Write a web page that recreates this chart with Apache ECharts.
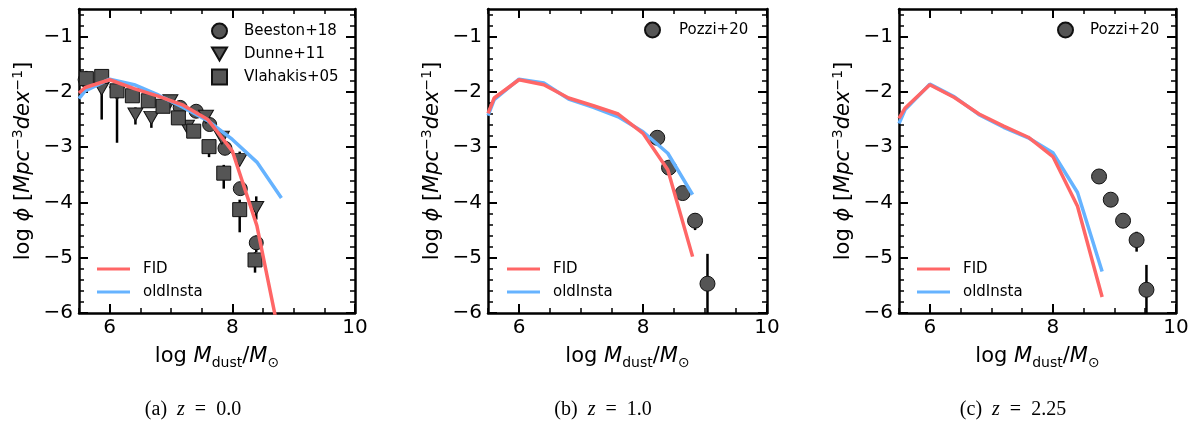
<!DOCTYPE html>
<html>
<head>
<meta charset="utf-8">
<script src="https://cdn.jsdelivr.net/npm/echarts@6/dist/echarts.min.js"></script>
<style>
  html, body { margin: 0; padding: 0; background: #fff; }
  #chart { width: 1194px; height: 435px; }
</style>
</head>
<body>
<div id="chart"></div>
<script>
// model grid in log Mdust
const modelX = [5.5, 5.6, 6.0, 6.4, 6.8, 7.2, 7.6, 8.0, 8.4, 8.8];

// z = 0.0
const fidZ0 = [-2.02, -1.92, -1.78, -1.94, -2.08, -2.24, -2.50, -3.07, -4.42, -6.6];
const oldZ0 = [-2.12, -1.98, -1.77, -1.87, -2.06, -2.28, -2.52, -2.86, -3.27, -3.92];
// z = 1.0
const fidZ1 = [-2.39, -2.11, -1.78, -1.87, -2.11, -2.25, -2.40, -2.75, -3.41, -4.98];
const oldZ1 = [-2.43, -2.14, -1.77, -1.84, -2.13, -2.28, -2.45, -2.72, -3.11, -3.86];
// z = 2.25
const fidZ2 = [-2.48, -2.29, -1.87, -2.10, -2.40, -2.62, -2.82, -3.17, -4.07, -5.71];
const oldZ2 = [-2.57, -2.32, -1.86, -2.09, -2.41, -2.64, -2.83, -3.10, -3.82, -5.25];

// observations z=0
const beestonX  = [5.6, 7.15, 7.41, 7.63, 7.88, 8.13, 8.39];
const beestonY  = [-1.78, -2.28, -2.35, -2.59, -3.02, -3.75, -4.73];
const beestonLo = [-1.86, -2.33, -2.40, -2.64, -3.08, -3.85, -4.90];
const beestonHi = [-1.70, -2.23, -2.30, -2.54, -2.96, -3.65, -4.60];

const dunneX  = [5.87, 6.12, 6.42, 6.68, 6.99, 7.26, 7.57, 7.83, 8.12, 8.39];
const dunneY  = [-1.94, -2.03, -2.41, -2.47, -2.17, -2.63, -2.45, -2.83, -3.23, -4.10];
const dunneLo = [-2.50, -2.92, -2.59, -2.65, -2.22, -2.68, -2.50, -2.90, -3.30, -4.31];
const dunneHi = [-1.85, -1.92, -2.28, -2.40, -2.12, -2.58, -2.40, -2.76, -3.08, -3.89];

const vlahX  = [5.62, 5.87, 6.12, 6.37, 6.63, 6.87, 7.12, 7.37, 7.62, 7.86, 8.12, 8.37];
const vlahY  = [-1.76, -1.72, -1.98, -2.07, -2.16, -2.26, -2.47, -2.71, -2.99, -3.47, -4.13, -5.04];
const vlahLo = [-1.84, -1.78, -2.04, -2.12, -2.21, -2.31, -2.52, -2.78, -3.18, -3.75, -4.54, -5.27];
const vlahHi = [-1.62, -1.66, -1.92, -2.02, -2.11, -2.21, -2.42, -2.65, -2.90, -3.32, -3.95, -4.90];

// Pozzi+20
const pozziX1  = [8.23, 8.42, 8.64, 8.84, 9.04];
const pozziY1  = [-2.83, -3.37, -3.83, -4.33, -5.47];
const pozziLo1 = [-2.90, -3.43, -3.90, -4.50, -6.00];
const pozziHi1 = [-2.76, -3.31, -3.76, -4.20, -4.93];

const pozziX2  = [8.75, 8.94, 9.14, 9.36, 9.52];
const pozziY2  = [-3.53, -3.95, -4.33, -4.68, -5.58];
const pozziLo2 = [-3.60, -4.02, -4.46, -4.89, -6.00];
const pozziHi2 = [-3.46, -3.88, -4.22, -4.53, -5.13];

// ticks
const xMajor = [6, 8, 10];
const yMajor = [-6, -5, -4, -3, -2, -1];
const captions = ['(a)  {i|z}  =  0.0', '(b)  {i|z}  =  1.0', '(c)  {i|z}  =  2.25'];

const xMinor = [];
for (let v = 5.5; v <= 10.001; v += 0.5) if (Math.abs(v - Math.round(v / 2) * 2) > 0.01) xMinor.push(+v.toFixed(2));
const yMinor = [];
for (let v = -6; v <= -0.55; v += 0.2) if (Math.abs(v - Math.round(v)) > 0.01) yMinor.push(+v.toFixed(2));

const FONT = 'DejaVu Sans';
const RED = '#ff6666';
const BLUE = '#66b3ff';
const MARK = '#555555';
const triDown = 'path://M0,0L20,0L10,17.3Z';

const grids = [
  { left: 79, top: 9, width: 276, height: 304 },
  { left: 488, top: 9, width: 279, height: 304 },
  { left: 899, top: 9, width: 277, height: 304 }
];

const fmt = v => (v < 0 ? '\u2212' + Math.abs(v) : String(v));

const xName = '{n|log }{i|M}{s|dust}{n|/}{i|M}{s|\u2299}';
const yName = '{n|log }{i|\u03d5}{n| [}{i|Mpc}{u|\u22123}{i|dex}{u|\u22121}{n|]}';
const nameRich = {
  n: { fontFamily: FONT, fontSize: 21, color: '#000', lineHeight: 26 },
  i: { fontFamily: FONT, fontSize: 21, fontStyle: 'italic', color: '#000', lineHeight: 26 },
  u: { fontFamily: FONT, fontSize: 14, color: '#000', lineHeight: 14, verticalAlign: 'top' },
  s: { fontFamily: FONT, fontSize: 14, color: '#000', lineHeight: 16, verticalAlign: 'bottom' }
};

function xAxes(g) {
  const base = { type: 'value', gridIndex: g, min: 5.5, max: 10, splitLine: { show: false } };
  const line = { show: true, onZero: false, lineStyle: { color: '#000', width: 2.5 } };
  const major = { show: true, inside: true, length: 9, lineStyle: { color: '#000', width: 2 }, customValues: xMajor };
  const minor = { show: true, inside: true, length: 5, lineStyle: { color: '#000', width: 1.5 }, customValues: xMinor };
  return [
    Object.assign({}, base, {
      position: 'bottom', axisLine: line, axisTick: major,
      axisLabel: { show: true, customValues: xMajor, margin: 5, fontSize: 20, fontFamily: FONT, color: '#000', formatter: fmt },
      name: xName, nameLocation: 'middle', nameGap: 31, nameTextStyle: { rich: nameRich }
    }),
    Object.assign({}, base, { position: 'bottom', axisLine: { show: false, onZero: false }, axisTick: minor, axisLabel: { show: false } }),
    Object.assign({}, base, { position: 'top', axisLine: line, axisTick: major, axisLabel: { show: false } }),
    Object.assign({}, base, { position: 'top', axisLine: { show: false, onZero: false }, axisTick: minor, axisLabel: { show: false } })
  ];
}

function yAxes(g) {
  const base = { type: 'value', gridIndex: g, min: -6, max: -0.5, splitLine: { show: false } };
  const line = { show: true, onZero: false, lineStyle: { color: '#000', width: 2.5 } };
  const major = { show: true, inside: true, length: 9, lineStyle: { color: '#000', width: 2 }, customValues: yMajor };
  const minor = { show: true, inside: true, length: 5, lineStyle: { color: '#000', width: 1.5 }, customValues: yMinor };
  return [
    Object.assign({}, base, {
      position: 'left', axisLine: line, axisTick: major,
      axisLabel: { show: true, customValues: yMajor, margin: 6, fontSize: 20, fontFamily: FONT, color: '#000', formatter: fmt },
      name: yName, nameLocation: 'middle', nameGap: 42, nameTextStyle: { rich: nameRich }
    }),
    Object.assign({}, base, { position: 'left', axisLine: { show: false, onZero: false }, axisTick: minor, axisLabel: { show: false } }),
    Object.assign({}, base, { position: 'right', axisLine: line, axisTick: major, axisLabel: { show: false } }),
    Object.assign({}, base, { position: 'right', axisLine: { show: false, onZero: false }, axisTick: minor, axisLabel: { show: false } })
  ];
}

function errSeries(g, xs, lo, hi) {
  return {
    type: 'custom', name: 'err', xAxisIndex: 4 * g, yAxisIndex: 4 * g, z: 1, clip: true, silent: true,
    data: xs.map((x, k) => [x, lo[k], hi[k]]),
    encode: { x: 0, y: [1, 2] },
    renderItem: (params, api) => {
      const p1 = api.coord([api.value(0), api.value(1)]);
      const p2 = api.coord([api.value(0), api.value(2)]);
      return { type: 'line', shape: { x1: p1[0], y1: p1[1], x2: p2[0], y2: p2[1] }, style: { stroke: '#000', lineWidth: 2.5 } };
    }
  };
}

function scatter(g, name, xs, ys, symbol, size) {
  return {
    type: 'scatter', name: name, xAxisIndex: 4 * g, yAxisIndex: 4 * g, z: 3,
    symbol: symbol, symbolSize: size,
    itemStyle: { color: MARK, borderColor: '#111', borderWidth: 1, opacity: 1 },
    data: xs.map((x, k) => [x, ys[k]])
  };
}

function model(g, name, ys, color, z) {
  return {
    type: 'line', name: name, xAxisIndex: 4 * g, yAxisIndex: 4 * g, z: z,
    symbol: 'none', showSymbol: false, clip: true, color: color,
    lineStyle: { color: color, width: 3.5 },
    data: modelX.map((x, k) => [x, ys[k]])
  };
}

const series = [
  errSeries(0, beestonX, beestonLo, beestonHi),
  errSeries(0, dunneX, dunneLo, dunneHi),
  errSeries(0, vlahX, vlahLo, vlahHi),
  scatter(0, 'Beeston+18', beestonX, beestonY, 'circle', 14),
  scatter(0, 'Dunne+11', dunneX, dunneY, triDown, [15, 13]),
  scatter(0, 'Vlahakis+05', vlahX, vlahY, 'rect', 14),
  model(0, 'oldInsta', oldZ0, BLUE, 4),
  model(0, 'FID', fidZ0, RED, 5),

  errSeries(1, pozziX1, pozziLo1, pozziHi1),
  scatter(1, 'Pozzi+20', pozziX1, pozziY1, 'circle', 15),
  model(1, 'oldInsta', oldZ1, BLUE, 4),
  model(1, 'FID', fidZ1, RED, 5),

  errSeries(2, pozziX2, pozziLo2, pozziHi2),
  scatter(2, 'Pozzi+20', pozziX2, pozziY2, 'circle', 15),
  model(2, 'oldInsta', oldZ2, BLUE, 4),
  model(2, 'FID', fidZ2, RED, 5)
];

const legText = { fontFamily: FONT, fontSize: 15, color: '#000', lineHeight: 18 };

function lineLegend(left) {
  return {
    data: [{ name: 'FID', icon: 'rect' }, { name: 'oldInsta', icon: 'rect' }],
    orient: 'vertical', left: left, top: 255, itemWidth: 33, itemHeight: 3, itemGap: 5,
    selectedMode: false, textStyle: Object.assign({ padding: [0, 0, 0, 8] }, legText)
  };
}

const legends = [
  {
    data: [{ name: 'Beeston+18', icon: 'circle' }, { name: 'Dunne+11', icon: triDown }, { name: 'Vlahakis+05', icon: 'rect' }],
    orient: 'vertical', left: 206, top: 17, itemWidth: 15, itemHeight: 15, itemGap: 5,
    selectedMode: false, textStyle: Object.assign({ padding: [0, 0, 0, 12] }, legText)
  },
  {
    data: [{ name: 'Pozzi+20', icon: 'circle' }],
    orient: 'vertical', left: 639, top: 16, itemWidth: 15, itemHeight: 15,
    selectedMode: false, textStyle: Object.assign({ padding: [0, 0, 0, 14] }, legText)
  },
  {
    data: [{ name: 'Pozzi+20', icon: 'circle' }],
    orient: 'vertical', left: 1052, top: 16, itemWidth: 15, itemHeight: 15,
    selectedMode: false, textStyle: Object.assign({ padding: [0, 0, 0, 12] }, legText)
  },
  lineLegend(92), lineLegend(502), lineLegend(912)
];

const captionX = [193, 603, 1013];
const graphic = captions.map((c, k) => ({
  type: 'text', x: captionX[k], y: 410,
  style: {
    text: c, fill: '#000', fontFamily: 'Liberation Serif', fontSize: 20,
    align: 'center', verticalAlign: 'middle',
    rich: { i: { font: 'italic 20px "Liberation Serif"', fontFamily: 'Liberation Serif', fontSize: 20, fontStyle: 'italic', fill: '#000' } }
  }
}));

const chart = echarts.init(document.getElementById('chart'), null, { renderer: 'canvas' });
chart.setOption({
  animation: false,
  backgroundColor: '#fff',
  grid: grids,
  xAxis: [].concat(xAxes(0), xAxes(1), xAxes(2)),
  yAxis: [].concat(yAxes(0), yAxes(1), yAxes(2)),
  legend: legends,
  graphic: graphic,
  series: series
});
</script>
</body>
</html>
